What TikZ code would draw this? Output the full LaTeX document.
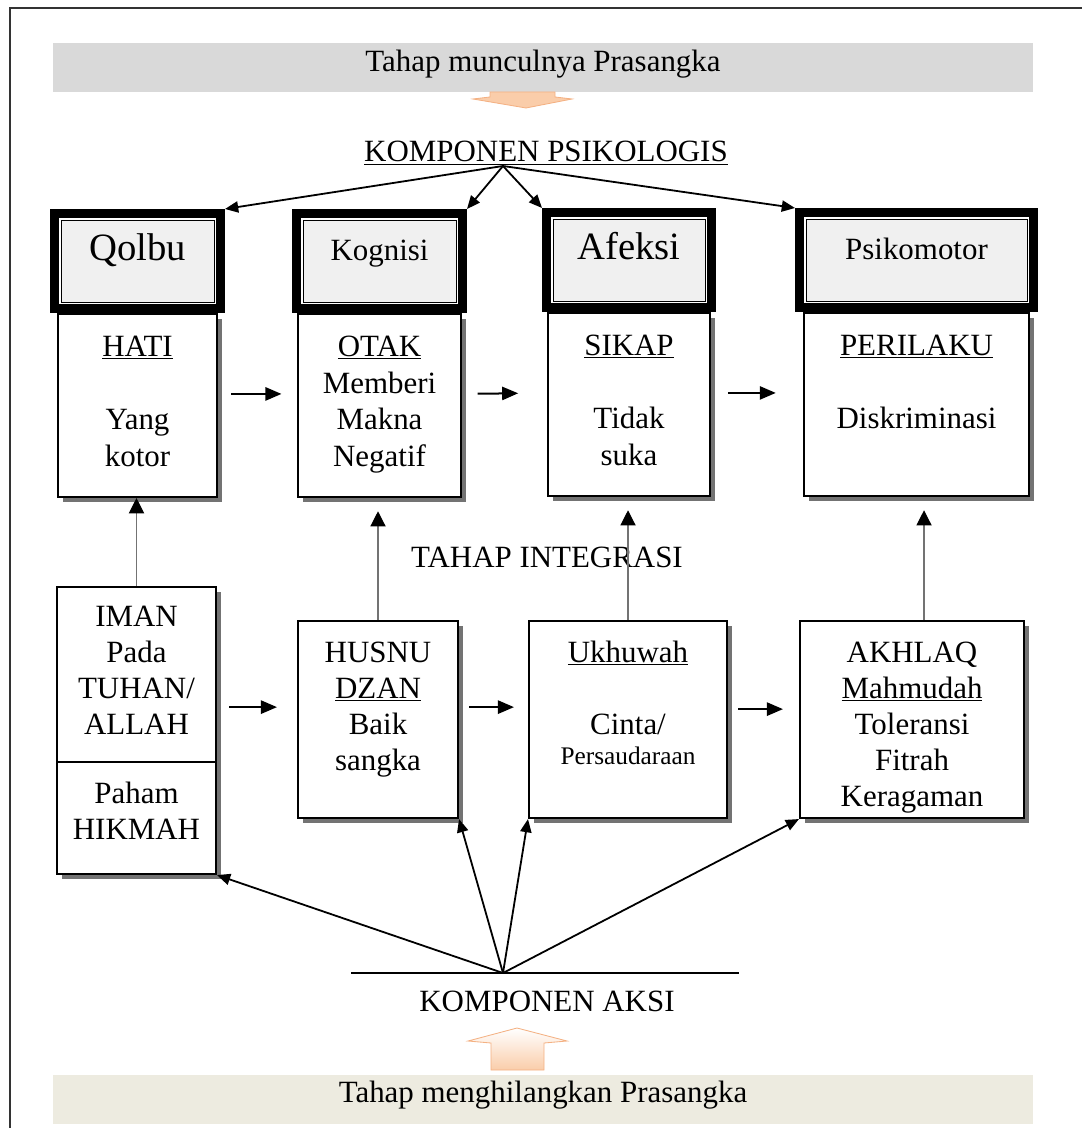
\documentclass[tikz,border=0pt]{standalone}
\usepackage{fontspec}
\setmainfont{Liberation Serif}
\usetikzlibrary{arrows.meta,positioning,shadows}

\definecolor{krem}{RGB}{237,235,224}
\definecolor{persik}{RGB}{250,205,170}
\definecolor{persikgelap}{RGB}{244,177,131}

\begin{document}
\begin{tikzpicture}[
    x = 0.025cm, y = -0.025cm, % one unit = one pixel of the sketch
    font = \fontsize{22}{26.3}\selectfont,
    semithick % line style
    ]

    \tikzset{
    bingkai/.style = {draw, line width=0.225cm, minimum width=#1,
        minimum height=2.375cm, inner sep=0pt},
    dalam/.style = {draw, thin, fill=black!6, minimum width=#1,
        minimum height=2.05cm, inner sep=0pt, text height=0.6cm, text depth=0.6cm},
    kotak/.style = {draw, fill=white, line width=0.05cm, inner sep=0pt,
        align=center, text width=#1,
        drop shadow={shadow xshift=0.125cm, shadow yshift=-0.125cm,
            fill=black!55, opacity=1}},
    atas/.style = {kotak=#1, text height=1.05cm, text depth=3.525cm},
    bawah/.style = {kotak=#1, font=\fontsize{22}{25.6}\selectfont},
    pita/.style = {inner sep=0pt, minimum width=24.5cm},
    panah/.style = {-{Triangle[length=0.4cm,width=0.33cm]}, line width=0.05cm},
    naik/.style = {-{Triangle[length=0.38cm,width=0.38cm,color=black]},
        draw=black!55, line width=0.03cm},
    kipas/.style = {-{Triangle[length=0.33cm,width=0.28cm]}, line width=0.045cm}
    }

    \useasboundingbox (0,0) rectangle (1081,1128);
    \draw[line width=0.05cm, black!80] (10,8) rectangle (1100,1150);

    % banners
    \node[pita, fill=gray!30, text height=0.725cm, text depth=0.5cm] (munculnya) at (543,67.5) {Tahap munculnya Prasangka};
    \node[pita, fill=krem, text height=0.675cm, text depth=0.55cm] (menghilangkan) at (543,1099.5) {Tahap menghilangkan Prasangka};
    \draw[persikgelap, fill=persik] (490,92) -- (555,92) -- (555,97) -- (572,99) -- (526,108) -- (473,99) -- (490,97) -- cycle;
    \draw[persikgelap, top color=white, bottom color=persik] (491,1070) -- (491,1043) -- (468,1041) -- (517,1028) -- (567,1041) -- (544,1043) -- (544,1070) -- cycle;

    \node[anchor=base] (psikologis) at (546,162) {\underline{KOMPONEN PSIKOLOGIS}};
    \coordinate (psi) at (503,166);

    % komponen psikologis
    \node[bingkai=4.15cm] (qolbuF) at (137.5,261) {};
    \node[dalam=3.825cm, font=\fontsize{27.5}{30}\selectfont] (qolbu) at (qolbuF) {Qolbu};
    \node[bingkai=4.15cm] (kognisiF) at (379.5,261) {};
    \node[dalam=3.825cm] (kognisi) at (kognisiF) {Kognisi};
    \node[bingkai=4.125cm] (afeksiF) at (629,260) {};
    \node[dalam=3.8cm, font=\fontsize{27.5}{30}\selectfont] (afeksi) at (afeksiF) {Afeksi};
    \node[bingkai=5.85cm] (psikomotorF) at (916.5,260) {};
    \node[dalam=5.525cm] (psikomotor) at (psikomotorF) {Psikomotor};

    \node[atas=3.975cm, below=0pt of qolbuF] (hati) {\underline{HATI}\\[\baselineskip]Yang\\kotor};
    \node[atas=4.05cm, below=0pt of kognisiF] (otak) {\underline{OTAK}\\Memberi\\Makna\\Negatif};
    \node[atas=4.05cm, below=0pt of afeksiF] (sikap) {\underline{SIKAP}\\[\baselineskip]Tidak\\suka};
    \node[atas=5.625cm, below=0pt of psikomotorF] (perilaku) {\underline{PERILAKU}\\[\baselineskip]Diskriminasi};

    \path[kipas] (psi) edge (qolbuF.north east) edge (kognisiF.north east)
        edge (afeksiF.north west) edge (psikomotorF.north west);

    \draw[panah, shorten <=0.33cm, shorten >=0.4cm] ([yshift=0.29cm]hati.east) -- ([yshift=0.29cm]otak.west);
    \draw[panah, shorten <=0.4cm, shorten >=0.72cm] ([yshift=0.29cm]otak.east) -- ([yshift=0.29cm]sikap.west);
    \draw[panah, shorten <=0.42cm, shorten >=0.68cm] ([yshift=0.29cm]sikap.east) -- ([yshift=0.29cm]perilaku.west);

    \node[anchor=base] (integrasi) at (547,567) {TAHAP INTEGRASI};

    % komponen aksi
    \node[bawah=3.975cm, text height=0.975cm, text depth=3.4cm, anchor=north] (iman) at (136.5,586) {IMAN\\Pada\\TUHAN/\\ALLAH};
    \node[bawah=3.975cm, text height=1.025cm, text depth=1.775cm, below=-0.05cm of iman] (hikmah) {Paham\\HIKMAH};
    \node[bawah=4cm, text height=1.025cm, text depth=3.9cm, anchor=north] (husnu) at (378,620) {HUSNU\\\underline{DZAN}\\Baik\\sangka};
    \node[bawah=4.95cm, text height=1.025cm, text depth=3.9cm, anchor=north] (ukhuwah) at (628,620) {\underline{Ukhuwah}\\[\baselineskip]Cinta/\\[-0.15cm]{\fontsize{18}{20}\selectfont Persaudaraan}};
    \node[bawah=5.6cm, text height=1.025cm, text depth=3.9cm, anchor=north] (akhlaq) at (912,620) {AKHLAQ\\\underline{Mahmudah}\\Toleransi\\Fitrah\\Keragaman};

    \draw[naik] (iman.north) -- (iman.north |- hati.south);
    \draw[naik, shorten >=0.33cm] (husnu.north) -- (husnu.north |- otak.south);
    \draw[naik, shorten >=0.33cm] (ukhuwah.north) -- (ukhuwah.north |- sikap.south);
    \draw[naik, shorten >=0.33cm] ([xshift=0.3cm]akhlaq.north) -- ([xshift=0.3cm]akhlaq.north |- perilaku.south);

    \draw[panah, shorten <=0.3cm, shorten >=0.5cm] ([yshift=0.31cm]husnu.west -| iman.east) -- ([yshift=0.31cm]husnu.west);
    \draw[panah, shorten <=0.25cm, shorten >=0.35cm] ([yshift=0.31cm]husnu.east) -- ([yshift=0.31cm]ukhuwah.west);
    \draw[panah, shorten <=0.25cm, shorten >=0.4cm] ([yshift=0.26cm]ukhuwah.east) -- ([yshift=0.26cm]akhlaq.west);

    \coordinate (aksi) at (503,973);
    \coordinate (garisKiri) at (351,973);
    \coordinate (garisKanan) at (739,973);
    \draw[line width=0.05cm] (garisKiri) -- (garisKanan);
    \path[kipas] (aksi) edge (hikmah.south east) edge (husnu.south east)
        edge (ukhuwah.south west) edge (akhlaq.south west);
    \node[anchor=base] (komponenAksi) at (547,1011) {KOMPONEN AKSI};
\end{tikzpicture}
\end{document}
